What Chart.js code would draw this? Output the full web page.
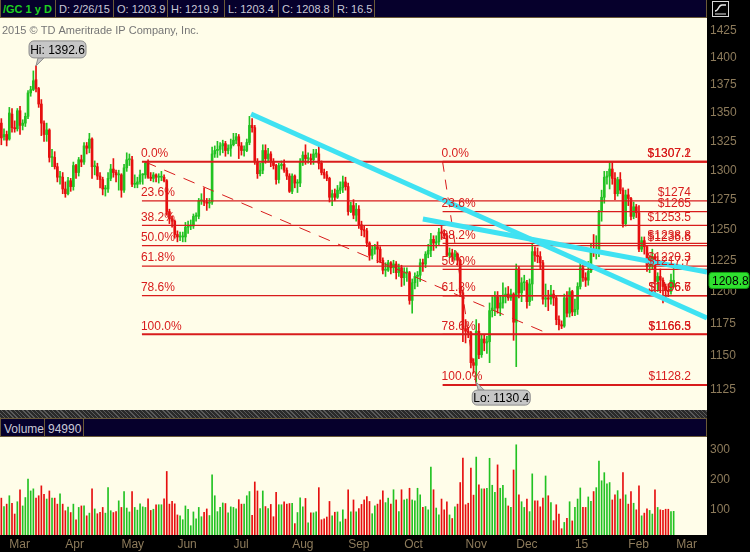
<!DOCTYPE html>
<html>
<head>
<meta charset="utf-8">
<script src="https://cdn.jsdelivr.net/npm/chart.js@4.4.1/dist/chart.umd.min.js"></script>
<style>
body{margin:0;background:#000;width:750px;height:552px;overflow:hidden;position:relative;font-family:"Liberation Sans",Arial,sans-serif;}
.hdr{position:absolute;left:0;width:707px;background:#06002c;border:1px solid #6b5a38;border-top:none;box-sizing:border-box;}
.cell{position:absolute;top:0;font-size:11px;color:#c9c9d6;white-space:nowrap;}
.sep{position:absolute;top:0;bottom:0;width:1px;background:#6b5a38;}
canvas{position:absolute;left:0;}
#strip{position:absolute;left:0;top:410px;width:707px;height:8px;background:repeating-linear-gradient(45deg,#5a5a5a 0 1px,#2a2a2a 1px 3px);}
#icon{position:absolute;left:712px;top:1px;width:15px;height:14px;border:1px solid #d8d8d8;}
</style>
</head>
<body>
<div class="hdr" style="top:0;height:18px;">
  <div class="cell" style="left:2px;top:3px;color:#1fd01f;font-weight:bold;">/GC 1 y D</div>
  <div class="sep" style="left:54px"></div>
  <div class="cell" style="left:58px;top:3px;">D: 2/26/15</div>
  <div class="sep" style="left:112px"></div>
  <div class="cell" style="left:116px;top:3px;">O: 1203.9</div>
  <div class="sep" style="left:166px"></div>
  <div class="cell" style="left:170px;top:3px;">H: 1219.9</div>
  <div class="sep" style="left:223px"></div>
  <div class="cell" style="left:227px;top:3px;">L: 1203.4</div>
  <div class="sep" style="left:277px"></div>
  <div class="cell" style="left:281px;top:3px;">C: 1208.8</div>
  <div class="sep" style="left:332px"></div>
  <div class="cell" style="left:336px;top:3px;">R: 16.5</div>
  <div class="sep" style="left:373px"></div>
</div>
<div id="icon"><svg width="15" height="14"><path d="M2 9 C6 9 5 3 9 3 L13 3" stroke="#e8e8e8" fill="none" stroke-width="1.5"/><line x1="2" y1="12" x2="13" y2="12" stroke="#e8e8e8"/></svg></div>
<canvas id="price" width="750" height="392" style="top:18px"></canvas>
<div id="strip"></div>
<div class="hdr" style="top:418px;height:19px;border-top:1px solid #6b5a38;">
  <div class="cell" style="left:3px;top:3px;font-size:12px;">Volume</div>
  <div class="sep" style="left:43px"></div>
  <div class="cell" style="left:47px;top:3px;font-size:12px;">94990</div>
  <div class="sep" style="left:82px"></div>
</div>
<canvas id="volume" width="750" height="115" style="top:437px"></canvas>
<script>
// daily bars, 2/26/14 .. 2/26/15
var opens = [1341,1329,1331,
  1327,1349,1337,1336,1352,1339,1341,1347,1368,1371,1380,1372,1358,1341,1331,1335,1311,1311,1303,1294,1294,
  1284,1280,1291,1286,1304,1298,1309,1307,1321,1319,1327,1303,1303,1295,1292,1284,1284,1293,1301,1298,1296,
  1296,1283,1302,1309,1309,1288,1288,1290,1296,1296,1306,1294,1293,1296,1294,1294,1294,1291,1265,1259,1257,
  1246,1244,1244,1244,1252,1253,1253,1261,1261,1274,1274,1273,1272,1273,1314,1317,1318,1321,1323,1317,1319,
  1322,1326,1329,1321,1317,1317,1324,1339,1337,1307,1297,1300,1317,1310,1314,1307,1304,1292,1304,1305,1300,1295,
  1282,1295,1289,1289,1307,1313,1310,1310,1309,1314,1314,1306,1298,1296,1293,1277,1280,1277,1283,1285,1290,
  1286,1265,1270,1262,1267,1254,1250,1249,1239,1229,1234,1236,1234,1225,1217,1217,1223,1219,1222,1215,1219,
  1211,1215,1215,1193,1207,1212,1213,1223,1222,1230,1233,1242,1239,1240,1248,1247,1245,1229,1231,1228,1230,1225,1199,
  1171,1169,1168,1145,1143,1169,1151,1163,1160,1161,1185,1187,1196,1187,1191,1196,1198,1195,1198,
  1176,1218,1199,1207,1207,1192,1206,1232,1229,1228,1223,1194,1195,1194,1198,1195,1178,1174,1173,1195,1183,1200,
  1184,1186,1204,1219,1211,1209,1216,1233,1231,1234,1265,1277,1294,1295,1301,1293,1280,1292,1283,1255,
  1279,1276,1261,1269,1264,1234,1241,1236,1220,1221,1228,1208,1212,1209,1204,1201,1200,1203.9];
var highs = [1345,1336,1334,
  1355,1354,1343,1354,1356,1344,1350,1370,1374,1388,1392.6,1373,1362,1343,1341,1336,1318,1316,1306,1299,1298,
  1290,1294,1293,1307,1305,1311,1313,1324,1324,1332,1328,1308,1306,1298,1294,1287,1298,1305,1310,1300,1300,
  1297,1305,1315,1314,1312,1296,1294,1300,1297,1307,1309,1298,1298,1297,1297,1299,1296,1292,1267,1261,1258,
  1249,1248,1248,1256,1257,1258,1263,1264,1276,1280,1285,1276,1276,1320,1321,1325,1324,1326,1325,1322,1327,
  1332,1332,1331,1324,1321,1327,1347,1345,1339,1310,1306,1322,1322,1319,1316,1310,1305,1306,1308,1309,1302,1297,
  1297,1296,1292,1310,1316,1322,1315,1314,1318,1318,1323,1308,1301,1299,1294,1283,1284,1287,1290,1295,1294,
  1289,1273,1275,1272,1270,1257,1253,1251,1240,1237,1238,1240,1236,1227,1223,1225,1224,1225,1224,1222,1221,
  1219,1219,1216,1210,1215,1216,1226,1226,1232,1238,1247,1245,1245,1251,1253,1250,1247,1235,1234,1233,1231,1226,1201,
  1178,1172,1169,1148,1178,1175,1166,1166,1165,1191,1196,1200,1200,1197,1207,1203,1204,1202,1199,
  1222,1220,1211,1213,1209,1210,1238,1236,1235,1232,1225,1206,1201,1205,1201,1197,1181,1177,1198,1200,1203,1201,
  1194,1207,1224,1221,1215,1224,1238,1246,1245,1266,1283,1299,1299,1307.2,1307,1298,1294,1298,1285,1283,
  1284,1277,1273,1271,1270,1244,1244,1237,1228,1234,1230,1215,1218,1211,1206,1206,1214,1219.9];
var lows = [1322,1326,1321,
  1326,1333,1333,1334,1331,1335,1338,1345,1365,1370,1369,1355,1330,1325,1325,1307,1303,1301,1290,1288,1280,
  1277,1279,1282,1283,1293,1295,1303,1305,1314,1315,1293,1296,1292,1285,1279,1278,1281,1291,1294,1290,1283,
  1277,1281,1299,1304,1286,1285,1285,1288,1288,1293,1293,1291,1290,1290,1289,1291,1290,1262,1255,1252,1243,
  1240,1241,1240,1240,1247,1250,1251,1257,1259,1271,1270,1266,1268,1271,1311,1311,1313,1315,1312,1314,1312,
  1321,1323,1310,1313,1312,1316,1322,1333,1305,1293,1295,1297,1306,1307,1303,1301,1288,1289,1301,1298,1292,1281,
  1280,1285,1281,1286,1304,1305,1306,1305,1305,1311,1301,1296,1293,1291,1273,1270,1274,1276,1280,1281,1283,
  1262,1264,1259,1257,1251,1245,1244,1236,1225,1226,1230,1223,1223,1214,1212,1216,1214,1215,1210,1212,1204,
  1205,1208,1190,1183,1202,1204,1208,1216,1219,1227,1228,1233,1235,1237,1242,1243,1228,1227,1224,1225,1221,1196,1161,
  1160,1164,1141,1137,1130.4,1148,1149,1154,1152,1145,1180,1181,1183,1181,1187,1191,1193,1193,1162,
  1142,1195,1192,1201,1187,1189,1193,1224,1223,1218,1190,1188,1185,1190,1189,1174,1170,1171,1172,1180,1180,1181,
  1181,1182,1202,1208,1204,1205,1215,1228,1226,1228,1257,1272,1288,1284,1288,1275,1278,1280,1252,1253,
  1270,1258,1259,1260,1232,1232,1230,1216,1215,1218,1199,1200,1199,1191,1193,1196,1198,1203.4];
var closes = [1328,1331,1326,
  1350,1337,1336,1352,1339,1341,1347,1368,1371,1379,1372,1358,1341,1331,1335,1311,1311,1303,1294,1294,1284,
  1280,1291,1286,1304,1298,1309,1307,1321,1319,1327,1303,1303,1295,1292,1284,1284,1293,1301,1298,1296,1296,
  1283,1302,1309,1309,1288,1288,1290,1296,1296,1306,1294,1293,1296,1294,1294,1294,1291,1265,1259,1257,1246,
  1244,1244,1244,1252,1253,1253,1261,1261,1274,1274,1273,1272,1272,1314,1317,1318,1321,1323,1317,1319,1322,
  1326,1329,1321,1317,1317,1324,1339,1337,1307,1297,1300,1317,1310,1314,1307,1304,1292,1304,1305,1300,1295,1282,
  1295,1289,1289,1307,1313,1310,1310,1309,1314,1314,1306,1298,1296,1293,1277,1280,1277,1283,1285,1290,1286,
  1265,1270,1262,1267,1254,1250,1249,1239,1229,1234,1236,1234,1225,1217,1217,1223,1219,1222,1215,1219,1211,
  1215,1215,1193,1207,1212,1213,1223,1222,1230,1233,1242,1239,1240,1248,1247,1245,1229,1231,1228,1230,1225,1199,1171,
  1169,1168,1145,1143,1169,1151,1163,1160,1161,1185,1187,1196,1187,1191,1196,1198,1195,1198,1176,
  1218,1199,1207,1207,1192,1206,1232,1229,1228,1223,1194,1195,1194,1198,1195,1178,1174,1173,1195,1183,1200,1184,
  1186,1204,1219,1211,1209,1216,1233,1231,1234,1265,1277,1294,1295,1301,1293,1280,1292,1283,1255,1279,
  1276,1261,1269,1264,1234,1241,1236,1220,1221,1228,1208,1212,1209,1204,1201,1200,1209,1208.8];
// volume in thousands
var volumes = [139,111,119,147,122,86,127,167,113,141,
  203,163,170,139,147,180,152,136,163,139,
  139,119,153,119,97,109,91,119,67,108,
  113,113,80,89,170,103,87,92,108,89,
  174,97,91,94,130,108,161,106,93,161,
  108,99,120,110,108,137,98,102,117,117,
  117,137,228,119,128,120,83,80,67,113,
  102,47,93,70,108,77,92,103,81,217,
  147,94,108,123,121,90,110,108,103,134,
  119,119,147,161,82,193,163,104,163,111,
  104,118,77,158,117,117,127,119,121,122,
  54,91,140,110,138,57,90,90,93,174,
  67,70,76,128,80,92,93,60,100,69,
  167,93,133,93,104,118,133,144,128,87,
  113,119,133,163,124,139,119,167,133,94,
  167,133,136,172,133,130,172,150,108,111,
  100,243,167,106,83,136,100,127,83,71,
  110,119,191,273,117,122,239,149,276,183,
  170,170,172,272,182,158,250,172,182,139,
  113,108,233,317,150,127,108,136,94,220,
  130,130,110,139,213,147,124,64,117,86,
  37,58,72,127,63,108,136,173,108,108,
  143,128,161,174,263,197,224,187,191,133,
  150,164,136,224,150,119,161,122,100,180,
  80,89,103,98,86,167,108,100,98,102,
  102,94,95];

var monthStarts = [3,24,45,66,87,109,130,151,174,193,215,235,253];
var monthNames = ['Mar','Apr','May','Jun','Jul','Aug','Sep','Oct','Nov','Dec','15','Feb','Mar'];
var priceTicks = [1125,1150,1175,1200,1225,1250,1275,1300,1325,1350,1375,1400,1425];
var volumeTicks = [100,200,300];

var fibPcts = ['0.0%','23.6%','38.2%','50.0%','61.8%','78.6%','100.0%'];
var fib1Start = 52.7;
var fib1Prices = [1307.2,1274,1253.5,1236.9,1220.3,1196.7,1166.6];
var fib1Text = ['$1307.1','$1274','$1253.5','$1236.6','$1220.3','$1196.6','$1166.3'];
var fib2Start = 165.4;
var fib2Prices = [1307.2,1265,1238.8,1217.7,1196.6,1166.5,1128.2];
var fib2Text = ['$1307.2','$1265','$1238.8','$1217.7','$1196.7','$1166.5','$1128.2'];

var trendA = [[93.6,1349.1],[264.5,1179.2]];
var trendB = [[158,1258.8],[264.5,1215.5]];
var dash1 = [[53.8,1307.2],[205.6,1166.6]];
var dash2 = [[165.4,1307.2],[178,1128.2]];

var xMin = -0.5, xMax = 264.5;
var axisColor = '#8d7b5b';
var upColor = '#22c222', downColor = '#e60f0f';
var fibRed = '#d81c1c';
var fam = '"Liberation Sans", Arial, sans-serif';

var barColors = closes.map(function(c, i){ return c >= opens[i] ? upColor : downColor; });

function pts(arr){ return arr.map(function(p){ return {x:p[0], y:p[1]}; }); }
function noPad(s){ s.paddingTop = 0; s.paddingBottom = 0; s.paddingLeft = 0; s.paddingRight = 0; }

var priceSets = [];
priceSets.push({type:'line', data:pts(trendA), borderColor:'#3fe2f2', borderWidth:5, pointRadius:0, order:0});
priceSets.push({type:'line', data:pts(trendB), borderColor:'#3fe2f2', borderWidth:5, pointRadius:0, order:0});
[[fib1Start, fib1Prices],[fib2Start, fib2Prices]].forEach(function(f){
  f[1].forEach(function(p, k){
    priceSets.push({type:'line', data:[{x:f[0], y:p},{x:xMax, y:p}], borderColor:fibRed,
      borderWidth:(k === 0 || k === 6) ? 2 : 1.2, pointRadius:0, order:1});
  });
});
priceSets.push({type:'line', data:pts(dash1), borderColor:fibRed, borderWidth:1, borderDash:[12,9], pointRadius:0, order:1});
priceSets.push({type:'line', data:pts(dash2), borderColor:fibRed, borderWidth:1, borderDash:[10,8], pointRadius:0, order:1});
priceSets.push({type:'bar', data:closes.map(function(c, i){ return {x:i, y:[opens[i], c]}; }),
  backgroundColor:barColors, barThickness:2, minBarLength:1, grouped:false, order:2});
priceSets.push({type:'bar', data:highs.map(function(h, i){ return {x:i, y:[lows[i], h]}; }),
  backgroundColor:barColors, barThickness:1, grouped:false, order:3});

var panelBg = {
  id:'panelBg',
  beforeDraw: function(chart){
    var c = chart.ctx, a = chart.chartArea;
    c.save();
    c.fillStyle = '#000'; c.fillRect(0, 0, chart.width, chart.height);
    c.fillStyle = '#fffde9'; c.fillRect(a.left, a.top, a.right - a.left, a.bottom - a.top);
    c.restore();
  }
};

var priceNotes = {
  id:'priceNotes',
  afterDatasetsDraw: function(chart){
    var c = chart.ctx, xs = chart.scales.x, ys = chart.scales.y, a = chart.chartArea;
    c.save();
    c.font = '11px ' + fam; c.fillStyle = '#767676'; c.textBaseline = 'middle'; c.textAlign = 'left';
    c.fillText('2015 \u00a9 TD Ameritrade IP Company, Inc.', 2, 13);

    c.font = '12px ' + fam; c.fillStyle = fibRed; c.textBaseline = 'bottom';
    [[fib1Start, fib1Prices, fib1Text],[fib2Start, fib2Prices, fib2Text]].forEach(function(f){
      var x0 = xs.getPixelForValue(f[0]) - 1;
      f[1].forEach(function(p, k){
        var y = ys.getPixelForValue(p) - 2;
        c.textAlign = 'left'; c.fillText(fibPcts[k], x0, y);
        c.textAlign = 'right'; c.fillText(f[2][k], a.right - 16, y);
      });
    });

    function bubble(text, bx, by, w, h, tipX, tipY, baseX){
      var edge = tipY < by ? by : by + h;
      c.fillStyle = '#c6c6c6'; c.strokeStyle = '#8c8c8c'; c.lineWidth = 1;
      c.beginPath(); c.moveTo(baseX - 3, edge); c.lineTo(tipX, tipY); c.lineTo(baseX + 3, edge); c.closePath();
      c.fill(); c.stroke();
      c.beginPath(); c.roundRect(bx, by, w, h, 5); c.fill(); c.stroke();
      c.fillStyle = '#000'; c.font = '12px ' + fam; c.textAlign = 'center'; c.textBaseline = 'middle';
      c.fillText(text, bx + w / 2, by + h / 2 + 1);
    }
    var hx = xs.getPixelForValue(13), hy = ys.getPixelForValue(1392.6);
    bubble('Hi: 1392.6', hx - 7, hy - 25, 57, 17, hx, hy, hx + 5);
    var lx = xs.getPixelForValue(178), ly = ys.getPixelForValue(1130.4);
    bubble('Lo: 1130.4', lx - 4, ly + 8, 58, 15, lx, ly, lx + 5);

    var last = closes[closes.length - 1];
    var py = ys.getPixelForValue(last);
    c.fillStyle = '#2fe02f'; c.strokeStyle = '#139913';
    c.beginPath(); c.roundRect(a.right + 2, py - 8, 40, 16, 3); c.fill(); c.stroke();
    c.fillStyle = '#000'; c.font = '12px ' + fam; c.textAlign = 'left'; c.textBaseline = 'middle';
    c.fillText(last.toFixed(1), a.right + 5, py + 1);
    c.restore();
  }
};

new Chart(document.getElementById('price'), {
  type:'bar',
  data:{ datasets:priceSets },
  options:{
    responsive:false, animation:false, devicePixelRatio:1, events:[],
    layout:{ padding:0, autoPadding:false },
    plugins:{ legend:{display:false}, tooltip:{enabled:false} },
    scales:{
      x:{ type:'linear', min:xMin, max:xMax, offset:false, display:false },
      y:{ type:'logarithmic', position:'right', min:1109.8, max:1437.3,
        afterFit:function(s){ s.width = 43; noPad(s); },
        afterBuildTicks:function(s){ s.ticks = priceTicks.map(function(v){ return {value:v}; }); },
        ticks:{ color:axisColor, font:{size:12, family:fam}, padding:3, callback:function(v){ return String(v); } },
        grid:{ display:false, drawTicks:false }, border:{ display:false } }
    }
  },
  plugins:[panelBg, priceNotes]
});

new Chart(document.getElementById('volume'), {
  type:'bar',
  data:{ datasets:[{ data:volumes.map(function(v, i){ return {x:i, y:v}; }),
    backgroundColor:barColors, barThickness:1, grouped:false }] },
  options:{
    responsive:false, animation:false, devicePixelRatio:1, events:[],
    layout:{ padding:0, autoPadding:false },
    plugins:{ legend:{display:false}, tooltip:{enabled:false} },
    scales:{
      x:{ type:'linear', min:xMin, max:xMax, offset:false,
        afterFit:function(s){ s.height = 17; noPad(s); },
        afterBuildTicks:function(s){ s.ticks = monthStarts.map(function(v){ return {value:v}; }); },
        ticks:{ color:axisColor, font:{size:12, family:fam}, padding:2, align:'start', maxRotation:0, autoSkip:false,
          callback:function(v){ return monthNames[monthStarts.indexOf(v)]; } },
        grid:{ display:false, drawTicks:false }, border:{ display:false } },
      y:{ position:'right', min:16, max:343,
        afterFit:function(s){ s.width = 43; noPad(s); },
        afterBuildTicks:function(s){ s.ticks = volumeTicks.map(function(v){ return {value:v}; }); },
        ticks:{ color:axisColor, font:{size:12, family:fam}, padding:3 },
        grid:{ display:false, drawTicks:false }, border:{ display:false } }
    }
  },
  plugins:[panelBg]
});
</script>
</body>
</html>
